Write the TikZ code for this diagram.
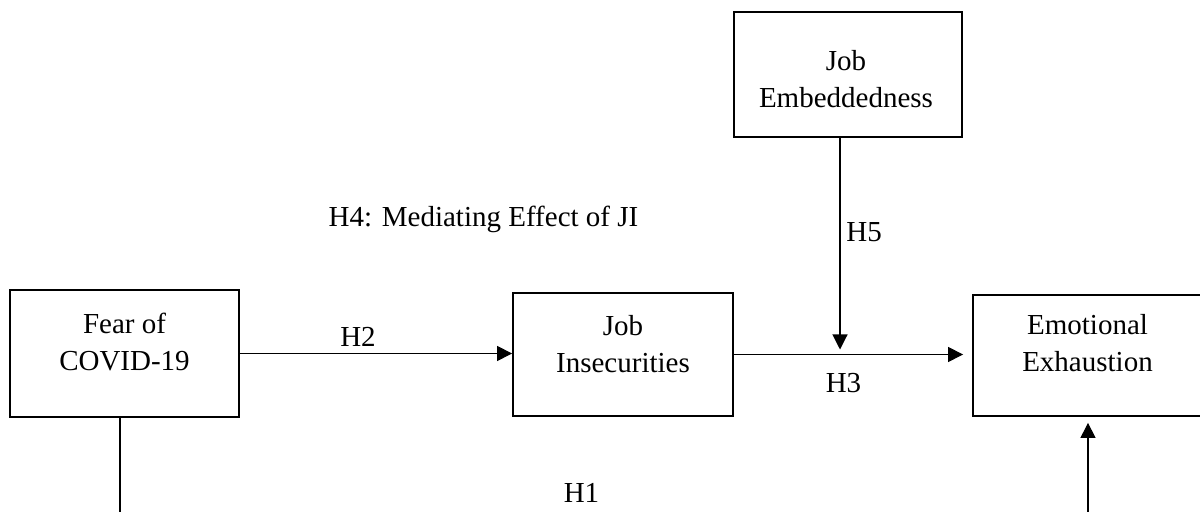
\documentclass[tikz,border=0pt]{standalone}
\usepackage{fontspec}
\setmainfont{Liberation Serif}
\usetikzlibrary{arrows.meta,calc}
\tikzset{
  x=0.5pt, y=-0.5pt,
  every node/.style={font=\fontsize{14.5}{18.5}\selectfont},
  box/.style={draw, line width=0.9pt, rectangle, inner sep=0pt},
  boxtext/.style={align=center, inner sep=0pt, anchor=north},
  lbl/.style={inner sep=0pt},
  conn/.style={line width=0.55pt},
  arr/.style={conn, -{Triangle[length=7.5pt,width=7.5pt]}}
}
\begin{document}
\begin{tikzpicture}
\useasboundingbox (0,0) rectangle (1200,512);
% boxes
\node[box, minimum width=114.5pt, minimum height=63.5pt] (fear) at (124.5,353.5) {};
\node[box, minimum width=110pt, minimum height=61.5pt] (ji) at (623,354.5) {};
\node[box, minimum width=133.5pt, minimum height=60.5pt] (ee) at (1106.5,355.5) {};
\node[box, minimum width=114pt, minimum height=62.5pt] (je) at (848,74.5) {};
% box texts
\node[boxtext] (feart) at (124.5,313) {Fear of\\COVID-19};
\node[boxtext] (jit) at (623,315) {Job\\Insecurities};
\node[boxtext] (eet) at (1087.5,314) {Emotional\\Exhaustion};
\node[boxtext] (jet) at (846,50) {Job\\Embeddedness};
% coordinates
\coordinate (mod) at (840,354.5);
\coordinate (h1l) at (120,540);
\coordinate (h1r) at (1088,540);
% connectors
\draw[arr] (fear.east) -- (fear.east -| ji.west);
\draw[arr, shorten >=4.5pt] (ji.east) -- (ji.east -| ee.west);
\draw[arr, shorten >=2.5pt] (je.south -| mod) -- (mod);
\draw[arr, shorten >=3pt] (fear.south -| h1l) -- (h1l) -- (h1r) -- (h1r |- ee.south);
% labels
\node[lbl, anchor=base] (h2) at (358,347) {H2};
\node[lbl, anchor=base] (h3) at (843.5,393) {H3};
\node[lbl, anchor=base] (h4) at (483.5,227) {H4: Mediating Effect of JI};
\node[lbl, anchor=base west] (h5) at (846,242) {H5};
\node[lbl, anchor=base] (h1) at (581.5,503) {H1};
\end{tikzpicture}
\end{document}
